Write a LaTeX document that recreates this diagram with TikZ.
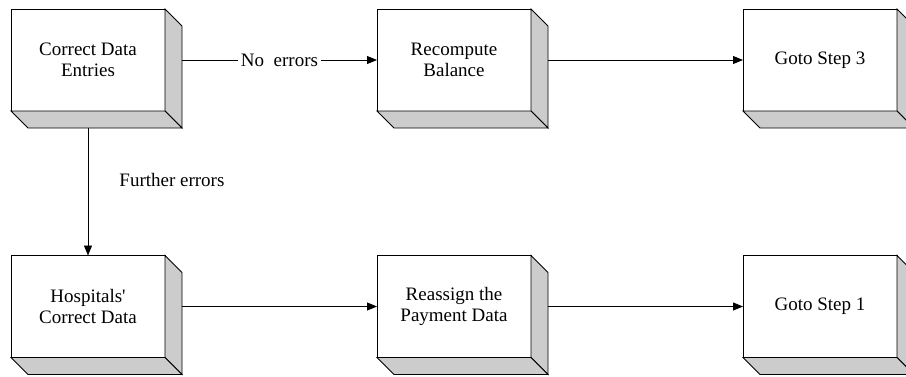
\documentclass[tikz,border=0pt]{standalone}
\usepackage{fontspec}
\setmainfont{Liberation Serif}
\usetikzlibrary{arrows.meta}

\tikzset{
  stepbox/.style={draw, line width=0.9pt, fill=white, minimum width=154pt,
    minimum height=102pt, inner sep=0pt, outer sep=0pt, align=center,
    font=\fontsize{19}{21.5}\selectfont},
  sideface/.style={draw, line width=0.9pt, fill=black!20, line join=miter},
  flow/.style={line width=0.9pt, -{Triangle[length=10pt,width=8pt]}},
  flowlabel/.style={font=\fontsize{19}{21.5}\selectfont, inner sep=3pt}
}

% a box front face with its bevelled right and bottom faces
\newcommand{\bevelbox}[4]{%
  \node[stepbox] (#1) at (#2,#3) {#4};
  \draw[sideface] (#1.north east) -- ++(17,17) -- ++(0,102) -- (#1.south east) -- cycle;
  \draw[sideface] (#1.south west) -- ++(17,17) -- ++(154,0) -- (#1.south east) -- cycle;
}

\begin{document}
\begin{tikzpicture}[x=1pt,y=-1pt]
  \useasboundingbox (0,0) rectangle (906,376);

  \bevelbox{cde}{88}{60}{Correct Data\\Entries}
  \bevelbox{rb}{454}{60}{Recompute\\Balance}
  \bevelbox{g3}{820}{60}{Goto Step 3}
  \bevelbox{hcd}{88}{306.5}{Hospitals\textquotesingle\\Correct Data}
  \bevelbox{rpd}{454}{306.5}{Reassign the\\Payment Data}
  \bevelbox{g1}{820}{306.5}{Goto Step 1}

  % top row
  \draw[flow] ([xshift=17pt]cde.east) -- node[flowlabel, fill=white] {No\ \ errors} (rb.west);
  \draw[flow] ([xshift=17pt]rb.east) -- (g3.west);

  % down to second row
  \draw[flow] ([yshift=-17pt]cde.south) -- node[pos=0.41, right, xshift=28pt, flowlabel] (fe) {Further errors} (hcd.north);

  % bottom row
  \draw[flow] ([xshift=17pt]hcd.east) -- (rpd.west);
  \draw[flow] ([xshift=17pt]rpd.east) -- (g1.west);
\end{tikzpicture}
\end{document}
